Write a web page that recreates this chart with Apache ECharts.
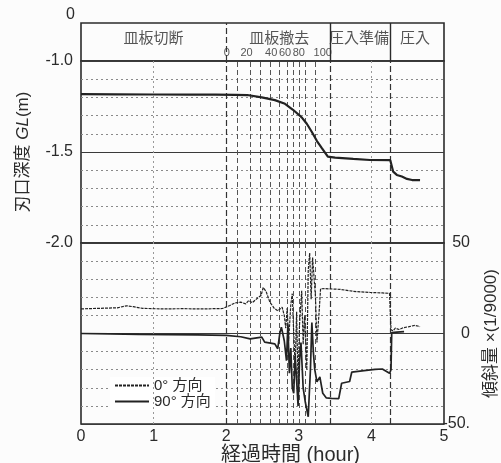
<!DOCTYPE html>
<html>
<head>
<meta charset="utf-8">
<script src="https://cdn.jsdelivr.net/npm/echarts@6/dist/echarts.min.js"></script>
<style>
html, body { margin: 0; padding: 0; background: #fcfcfc; }
#chart { width: 501px; height: 463px; }
</style>
</head>
<body>
<div id="chart"></div>
<script>
// 刃口深度 (m) vs 経過時間 (hour)
const depthTime  = [0.00, 0.50, 1.00, 1.50, 1.85, 2.12, 2.29, 2.49, 2.67, 2.81, 2.92, 3.04, 3.11, 3.18, 3.25, 3.32, 3.40, 3.50, 3.75, 3.98, 4.26, 4.28, 4.30, 4.35, 4.42, 4.49, 4.56, 4.67];
const depthValue = [-1.182, -1.183, -1.184, -1.185, -1.185, -1.186, -1.187, -1.200, -1.215, -1.235, -1.268, -1.310, -1.345, -1.390, -1.440, -1.480, -1.525, -1.531, -1.538, -1.544, -1.545, -1.553, -1.608, -1.626, -1.635, -1.648, -1.654, -1.655];

// 傾斜量 0° 方向
const tilt0Time  = [0.00, 0.25, 0.50, 0.63, 0.72, 0.85, 1.10, 1.40, 1.70, 1.95, 2.05, 2.12, 2.20, 2.27, 2.31, 2.36, 2.43, 2.48, 2.51, 2.55, 2.60, 2.66, 2.71, 2.77, 2.80, 2.82, 2.84, 2.86, 2.89, 2.91, 2.93, 2.95, 2.97, 2.99, 3.01, 3.04, 3.06, 3.08, 3.11, 3.13, 3.15, 3.17, 3.19, 3.21, 3.23, 3.25, 3.28, 3.30, 3.36, 3.45, 3.57, 3.75, 3.98, 4.15, 4.25, 4.27, 4.30, 4.33, 4.38, 4.44, 4.52, 4.60, 4.67];
const tilt0Value = [13.6, 13.9, 14.2, 15.3, 14.8, 13.9, 13.6, 13.7, 13.6, 13.8, 15.5, 16.9, 17.3, 16.4, 18.2, 17.0, 19.5, 21.0, 25.4, 23.2, 17.5, 14.0, 12.5, 14.5, 10.0, 3.0, 14.0, -4.0, 16.0, 22.0, 0.0, -18.0, 12.0, -28.0, 5.0, 23.6, -6.0, 10.0, -20.0, 35.0, 44.5, 19.0, 42.0, 43.0, 20.0, -5.0, 12.0, 24.7, 24.8, 24.6, 24.4, 23.3, 22.7, 22.4, 22.2, 2.0, 1.5, 3.0, 2.2, 3.2, 3.8, 4.5, 3.8];

// 傾斜量 90° 方向
const tilt90Time  = [0.00, 0.40, 0.80, 1.20, 1.60, 2.00, 2.20, 2.33, 2.49, 2.53, 2.67, 2.71, 2.74, 2.76, 2.80, 2.83, 2.85, 2.87, 2.89, 2.91, 2.93, 2.95, 2.97, 2.99, 3.01, 3.03, 3.06, 3.09, 3.13, 3.16, 3.18, 3.20, 3.22, 3.25, 3.29, 3.33, 3.38, 3.45, 3.55, 3.59, 3.70, 3.73, 3.90, 4.05, 4.15, 4.25, 4.27, 4.28, 4.35, 4.45];
const tilt90Value = [0.0, -0.2, -0.5, -0.6, -0.8, -1.0, -1.8, -3.0, -2.0, -4.8, -5.7, -8.4, 0.5, 3.5, -4.0, -15.0, 5.0, -22.0, -8.0, -30.0, -33.0, -12.0, -26.0, -40.0, -15.0, -5.0, -30.0, -38.0, -46.0, -20.0, 6.0, -10.0, -20.0, -26.7, -24.0, -33.0, -35.6, -35.8, -36.0, -27.5, -26.5, -21.3, -20.5, -19.8, -19.6, -22.0, -20.0, 0.5, 0.8, 1.0];

// header
const phaseNames   = ['皿板切断', '皿板撤去', '圧入準備', '圧入'];
const phaseCenters = [1.0, 2.73, 3.83, 4.6];
const removalPctLabels = ['0', '20', '40', '60', '80', '100'];
const removalPctPos    = [2.01, 2.28, 2.62, 2.81, 3.0, 3.33];

// vertical reference lines (hour)
const phaseLines   = [2.0, 3.43, 4.26];
const removalLines = [2.15, 2.33, 2.47, 2.60, 2.73, 2.84, 2.92, 3.0, 3.09, 3.22];
const hourLines    = [1, 4];

// tick labels
const depthTicks = [-2.0, -1.5, -1.0];
const depthTickLabels = ['-2.0', '-1.5', '-1.0'];
const tiltTicks = [-50, 0, 50];
const tiltTickLabels = ['-50.', '0', '50'];
const headerTickLabel = '0';

const seriesNames = ['0° 方向', '90° 方向'];

const FONT = "'Liberation Sans', 'Noto Sans CJK JP', sans-serif";
const INK = '#2b2b2b';

const zip = (a, b) => a.map((v, i) => [v, b[i]]);
const pick = (ticks, labels) => v => {
  const i = ticks.findIndex(t => Math.abs(t - v) < 1e-6);
  return i >= 0 ? labels[i] : '';
};

const dashLine = { type: [5, 3], color: '#555', width: 1 };
const phaseLine = { type: [6, 3], color: '#333', width: 1.2 };
const hourLine = { type: [2, 3], color: '#999', width: 1 };

function vLines(withHours) {
  let d = [];
  phaseLines.forEach(v => d.push({ xAxis: v, lineStyle: phaseLine }));
  removalLines.forEach(v => d.push({ xAxis: v, lineStyle: dashLine }));
  if (withHours) hourLines.forEach(v => d.push({ xAxis: v, lineStyle: hourLine }));
  return {
    silent: true, symbol: ['none', 'none'], label: { show: false },
    animation: false, data: d
  };
}

var myChart = echarts.init(document.getElementById('chart'));

const gridBase = {
  left: 81, right: 57, show: true, borderColor: INK, borderWidth: 1.6,
  backgroundColor: 'transparent', containLabel: false, outerBoundsMode: 'none'
};
const minorDots = { show: true, lineStyle: { type: [2, 3], color: '#8a8a8a', width: 1 } };

var option = {
  backgroundColor: '#fcfcfc',
  animation: false,
  textStyle: { fontFamily: FONT, color: INK },
  grid: [
    Object.assign({ top: 23, height: 38 }, gridBase),
    Object.assign({ top: 61, height: 182 }, gridBase),
    Object.assign({ top: 243, height: 181 }, gridBase)
  ],
  legend: {
    orient: 'vertical',
    left: 110, top: 377,
    itemWidth: 34, itemHeight: 10, itemGap: 1,
    backgroundColor: '#fff',
    padding: [1, 4, 1, 4],
    data: seriesNames,
    itemStyle: { opacity: 0 },
    textStyle: { fontFamily: FONT, fontSize: 15, lineHeight: 14, color: INK }
  },
  xAxis: [
    { gridIndex: 0, type: 'value', min: 0, max: 5, show: false },
    { gridIndex: 1, type: 'value', min: 0, max: 5, axisLine: { show: false }, axisTick: { show: false }, axisLabel: { show: false }, splitLine: { show: false } },
    {
      gridIndex: 2, type: 'value', min: 0, max: 5, interval: 1,
      axisLine: { show: false }, axisTick: { show: false }, splitLine: { show: false },
      axisLabel: { fontSize: 16, color: INK, margin: 5, fontFamily: FONT },
      name: '経過時間 (hour)', nameLocation: 'middle', nameGap: 15,
      nameTextStyle: { fontSize: 20, color: INK, fontFamily: FONT, padding: [0, 0, 0, 56] }
    }
  ],
  yAxis: [
    {
      gridIndex: 0, type: 'value', min: -1, max: 0, interval: 1,
      axisLine: { show: false }, axisTick: { show: false }, splitLine: { show: false },
      axisLabel: { fontSize: 16, color: INK, margin: 6, verticalAlign: 'bottom', formatter: v => (v === 0 ? headerTickLabel : '') }
    },
    {
      gridIndex: 1, type: 'value', min: -2, max: -1, interval: 0.5,
      axisLine: { show: false }, axisTick: { show: false },
      axisLabel: { fontSize: 16, color: INK, margin: 8, formatter: pick(depthTicks, depthTickLabels) },
      splitLine: { show: true, lineStyle: { color: '#3a3a3a', width: 1.2 } },
      minorTick: { show: false, splitNumber: 5 },
      minorSplitLine: minorDots,
      name: '刃口深度 {i|GL}(m)', nameLocation: 'middle', nameGap: 49,
      nameTextStyle: { fontSize: 17, color: INK, fontFamily: FONT, rich: { i: { fontStyle: 'italic', fontSize: 17, fontFamily: FONT, color: INK } } }
    },
    {
      gridIndex: 2, type: 'value', position: 'right', min: -50, max: 50, interval: 50,
      axisLine: { show: false }, axisTick: { show: false },
      axisLabel: { fontSize: 16, color: INK, margin: 26, align: 'right', formatter: pick(tiltTicks, tiltTickLabels) },
      splitLine: { show: true, lineStyle: { color: '#3a3a3a', width: 1.2 } },
      minorTick: { show: false, splitNumber: 5 },
      minorSplitLine: minorDots,
      name: '傾斜量 ×(1/9000)', nameLocation: 'middle', nameGap: 39,
      nameTextStyle: { fontSize: 17, color: INK, fontFamily: FONT }
    }
  ],
  series: [
    {
      name: 'header', type: 'scatter', xAxisIndex: 0, yAxisIndex: 0,
      symbolSize: 0, silent: true,
      data: phaseNames.map((n, i) => ({ name: n, value: [phaseCenters[i], -0.42] })),
      label: { show: true, position: 'inside', formatter: '{b}', fontSize: 15, color: INK, fontFamily: FONT },
      markLine: {
        silent: true, symbol: ['none', 'none'], label: { show: false },
        data: [
          { xAxis: phaseLines[0], lineStyle: phaseLine },
          { xAxis: phaseLines[1], lineStyle: { type: 'solid', color: INK, width: 1.4 } },
          { xAxis: phaseLines[2], lineStyle: { type: 'solid', color: INK, width: 1.4 } }
        ]
      }
    },
    {
      name: 'pct', type: 'scatter', xAxisIndex: 0, yAxisIndex: 0,
      symbolSize: 0, silent: true,
      data: removalPctLabels.map((n, i) => ({ name: n, value: [removalPctPos[i], -0.8] })),
      label: { show: true, position: 'inside', formatter: '{b}', fontSize: 11, color: INK, fontFamily: FONT }
    },
    {
      name: 'depth', type: 'line', xAxisIndex: 1, yAxisIndex: 1,
      symbol: 'none', smooth: false,
      lineStyle: { color: '#222', width: 2.2 },
      data: zip(depthTime, depthValue),
      markLine: vLines(true),
      z: 5
    },
    {
      name: seriesNames[0], type: 'line', xAxisIndex: 2, yAxisIndex: 2,
      symbol: 'none',
      itemStyle: { color: '#222' },
      lineStyle: { color: '#222', width: 1.2, type: [3, 1] },
      data: zip(tilt0Time, tilt0Value),
      markLine: vLines(true),
      z: 5
    },
    {
      name: seriesNames[1], type: 'line', xAxisIndex: 2, yAxisIndex: 2,
      symbol: 'none',
      itemStyle: { color: '#222' },
      lineStyle: { color: '#222', width: 1.7 },
      data: zip(tilt90Time, tilt90Value),
      z: 6
    }
  ]
};

myChart.setOption(option);
</script>
</body>
</html>
